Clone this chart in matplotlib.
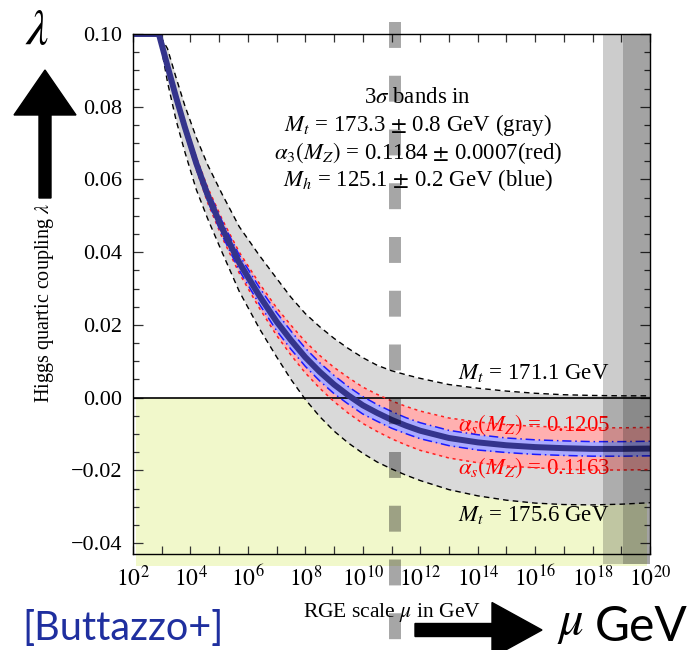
import numpy as np
import matplotlib.pyplot as plt
from matplotlib.patches import FancyArrow
from matplotlib.transforms import blended_transform_factory
from matplotlib.ticker import FixedLocator, FuncFormatter

plt.rcParams['font.family'] = ['Liberation Serif', 'DejaVu Serif']
plt.rcParams['mathtext.fontset'] = 'stix'

# log10(mu / GeV)
log_mu = [2.0, 2.9, 3.2, 3.5, 3.8, 4.2, 4.6, 5.1, 5.7, 6.4, 7.0, 7.5, 8.0, 8.5,
          9.0, 9.5, 10.0, 10.5, 11.0, 11.5, 12.0, 13.0, 14.0, 15.0, 16.0, 17.0,
          18.0, 19.0, 20.0]
# central value of lambda
lam_central = [0.100, 0.100, 0.0912, 0.0826, 0.0745, 0.0645, 0.0557, 0.0466,
               0.0371, 0.0280, 0.0209, 0.0158, 0.0111, 0.0071, 0.0036, 0.0006,
               -0.0021, -0.0042, -0.0061, -0.0077, -0.0091, -0.0111, -0.0123,
               -0.0131, -0.0136, -0.0139, -0.0141, -0.0141, -0.0140]
# Mt = 171.1 GeV
lam_mt_171 = [0.100, 0.100, 0.0960, 0.0880, 0.0804, 0.0716, 0.0640, 0.0560,
              0.0470, 0.0391, 0.0328, 0.0276, 0.0231, 0.0195, 0.0163, 0.0135,
              0.0110, 0.0089, 0.0074, 0.0063, 0.0053, 0.0036, 0.0026, 0.0018,
              0.0012, 0.0008, 0.0006, 0.0005, 0.0005]
# Mt = 175.6 GeV
lam_mt_175 = [0.100, 0.100, 0.0868, 0.0763, 0.0677, 0.0573, 0.0492, 0.0400,
              0.0292, 0.0190, 0.0112, 0.0050, -0.0005, -0.0052, -0.0092, -0.0125,
              -0.0153, -0.0177, -0.0196, -0.0213, -0.0228, -0.0253, -0.0270,
              -0.0282, -0.0290, -0.0294, -0.0295, -0.0293, -0.0289]
# half widths of alpha_s (red) and Mh (blue) bands
hw_alpha = [0.0, 0.0005, 0.0008, 0.0011, 0.0014, 0.0017, 0.0021, 0.0025, 0.0029,
            0.0034, 0.0038, 0.0041, 0.0043, 0.0045, 0.0047, 0.0049, 0.0050,
            0.0051, 0.0052, 0.0053, 0.0054, 0.0055, 0.0056, 0.0057, 0.0057,
            0.0058, 0.0058, 0.0058, 0.0058]
hw_mh = [0.0, 0.0005, 0.0008, 0.0010, 0.0012, 0.0014, 0.0016, 0.0019, 0.0021,
         0.0023, 0.0025, 0.0025, 0.0025, 0.0025, 0.0025, 0.0024, 0.0024, 0.0023,
         0.0023, 0.0022, 0.0022, 0.0021, 0.0021, 0.0020, 0.0020, 0.0020, 0.0020,
         0.0020, 0.0020]

mu_instab = 10 ** 11.12        # vertical dashed line
planck_bands = [(10 ** 18.37, 1e20), (10 ** 19.06, 1e20)]

mu = 10 ** np.array(log_mu)
lc = np.array(lam_central)
ha = np.array(hw_alpha)
hm = np.array(hw_mh)

fig = plt.figure(figsize=(6.9, 6.5), dpi=100)
ax = fig.add_axes([133 / 690, 96 / 650, 517 / 690, 520 / 650])
ax.set_xscale('log')
ax.set_xlim(1e2, 1e20)
ax.set_ylim(-0.043, 0.10)

# instability region
ax.axhspan(-0.0462, 0, xmin=0.006, xmax=0.994, color='#f1f8cb', lw=0,
           zorder=0, clip_on=False)

ax.fill_between(mu, lam_mt_171, lam_mt_175, color='#d9d9d9', lw=0, zorder=1)
ax.fill_between(mu, lc + ha, lc - ha, color='#ffb0b0', lw=0, zorder=2)
ax.fill_between(mu, lc + hm, lc - hm, color='#aaaaff', lw=0, zorder=3)
ax.axhline(0, color='k', lw=1.2, zorder=4)

ax.plot(mu, lam_mt_171, color='k', lw=1, ls=(0, (4, 3)), zorder=5)
ax.plot(mu, lam_mt_175, color='k', lw=1, ls=(0, (4, 3)), zorder=5)
ax.plot(mu, lc + ha, color='#ff2020', lw=1.1, ls=(0, (2, 2.5)), zorder=5)
ax.plot(mu, lc - ha, color='#ff2020', lw=1.1, ls=(0, (2, 2.5)), zorder=5)
ax.plot(mu, lc + hm, color='#1a1aff', lw=1.1, ls=(0, (6, 2.5, 1, 2.5)), zorder=6)
ax.plot(mu, lc - hm, color='#1a1aff', lw=1.1, ls=(0, (6, 2.5, 1, 2.5)), zorder=6)
ax.plot(mu, lc, color='#34348c', lw=4.3, zorder=7, solid_capstyle='butt',
        solid_joinstyle='round')

for lo, hi in planck_bands:
    r = ax.axvspan(lo, hi, ymin=-0.02, color='k', alpha=0.2, lw=0, zorder=8)
    r.set_clip_on(False)

trans = blended_transform_factory(ax.transData, ax.transAxes)
ax.plot([mu_instab, mu_instab], [1.024, -0.185], transform=trans, color='k',
        alpha=0.35, lw=8.6, ls=(0, (2.17, 2.33)), solid_capstyle='butt',
        dash_capstyle='butt', clip_on=False, zorder=10)

# labels in plot
fs_in = 16.5
ax.text(0.551, 0.877, r'3$\sigma$ bands in', transform=ax.transAxes,
        ha='center', va='center', fontsize=fs_in, zorder=9)
ax.text(0.551, 0.825, r'$M_t$ = 173.3 $\pm$ 0.8 GeV (gray)', transform=ax.transAxes,
        ha='center', va='center', fontsize=fs_in, zorder=9)
ax.text(0.551, 0.771, r'$\alpha_3(M_Z)$ = 0.1184 $\pm$ 0.0007(red)', transform=ax.transAxes,
        ha='center', va='center', fontsize=fs_in, zorder=9)
ax.text(0.551, 0.719, r'$M_h$ = 125.1 $\pm$ 0.2 GeV (blue)', transform=ax.transAxes,
        ha='center', va='center', fontsize=fs_in, zorder=9)

ax.text(0.629, 0.348, r'$M_t$ = 171.1 GeV', transform=ax.transAxes,
        ha='left', va='center', fontsize=fs_in, zorder=9)
ax.text(0.629, 0.248, r'$\alpha_s(M_Z)$ = 0.1205', transform=ax.transAxes, color='red',
        ha='left', va='center', fontsize=fs_in, zorder=4.5)
ax.text(0.629, 0.165, r'$\alpha_s(M_Z)$ = 0.1163', transform=ax.transAxes, color='red',
        ha='left', va='center', fontsize=fs_in, zorder=4.5)
ax.text(0.629, 0.075, r'$M_t$ = 175.6 GeV', transform=ax.transAxes,
        ha='left', va='center', fontsize=fs_in, zorder=9)

# ticks
ax.xaxis.set_major_locator(FixedLocator([10.0 ** k for k in range(2, 21, 2)]))
ax.xaxis.set_minor_locator(FixedLocator([10.0 ** k for k in range(3, 20, 2)]))
ax.xaxis.set_major_formatter(FuncFormatter(lambda v, p: r'$10^{%d}$' % round(np.log10(v))))
ax.xaxis.set_minor_formatter(FuncFormatter(lambda v, p: ''))
ax.set_yticks(np.arange(-0.04, 0.101, 0.02))
ax.set_yticks(np.arange(-0.04, 0.101, 0.005), minor=True)
ax.yaxis.set_major_formatter(FuncFormatter(lambda v, p: ('%.2f' % v).replace('-', '\u2212')))
ax.tick_params(axis='both', which='both', direction='in', top=True, right=True,
               width=0.9, color='#333333')
ax.tick_params(axis='x', which='both', length=6, labelsize=17, pad=8)
ax.tick_params(axis='y', which='major', length=7, labelsize=16, pad=8)
ax.tick_params(axis='y', which='minor', length=4)
for s in ax.spines.values():
    s.set_linewidth(1.0)
    s.set_zorder(11)

# axis titles
fig.text(45 / 690, 1 - 303 / 650, r'Higgs quartic coupling $\lambda$', rotation=90,
         ha='center', va='center', fontsize=14.5)
fig.text(392 / 690, 1 - 612 / 650, r'RGE scale $\mu$ in GeV', ha='center',
         va='center', fontsize=15.5)

# hand-drawn style annotations
fig.text(37 / 690, 1 - 32 / 650, r'$\lambda$', ha='center', va='center', fontsize=36)
fig.patches.append(FancyArrow(0.45, 6.5 - 1.98, 0, 1.28, width=0.12, head_width=0.62,
                              head_length=0.45, length_includes_head=True,
                              color='k', transform=fig.dpi_scale_trans, figure=fig))
fig.patches.append(FancyArrow(4.15, 6.5 - 6.3, 1.27, 0, width=0.13, head_width=0.55,
                              head_length=0.5, length_includes_head=True,
                              color='k', transform=fig.dpi_scale_trans, figure=fig))
fig.text(557 / 690, 1 - 624 / 650, r'$\mu$', ha='left', va='center', fontsize=35)
fig.text(595 / 690, 1 - 627 / 650, 'GeV', ha='left', va='center', fontsize=34.5,
         family='Lato')
fig.text(22 / 690, 1 - 628 / 650, '[Buttazzo+]', ha='left', va='center', fontsize=28.5,
         family='Lato', color='#1f2f9f')

fig.savefig('out.png', dpi=100)
